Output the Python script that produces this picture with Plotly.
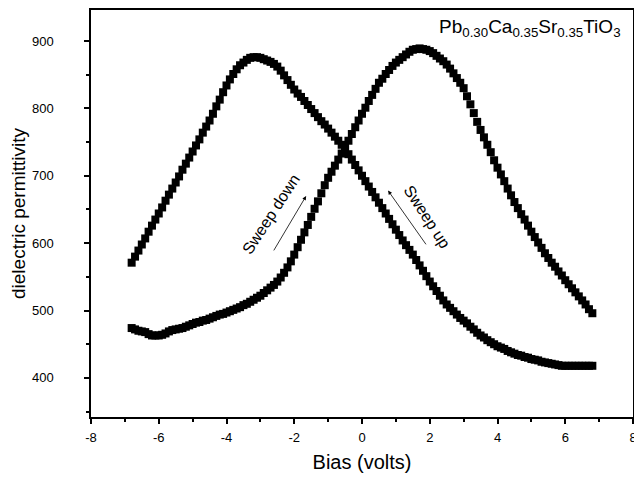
import plotly.graph_objects as go

# bias values (V), common to both sweeps
bias = [
    -6.8, -6.7, -6.6, -6.5, -6.4, -6.3, -6.2, -6.1, -6.0, -5.9,
    -5.8, -5.7, -5.6, -5.5, -5.4, -5.3, -5.2, -5.1, -5.0, -4.9,
    -4.8, -4.7, -4.6, -4.5, -4.4, -4.3, -4.2, -4.1, -4.0, -3.9,
    -3.8, -3.7, -3.6, -3.5, -3.4, -3.3, -3.2, -3.1, -3.0, -2.9,
    -2.8, -2.7, -2.6, -2.5, -2.4, -2.3, -2.2, -2.1, -2.0, -1.9,
    -1.8, -1.7, -1.6, -1.5, -1.4, -1.3, -1.2, -1.1, -1.0, -0.9,
    -0.8, -0.7, -0.6, -0.5, -0.4, -0.3, -0.2, -0.1, 0.0, 0.1,
    0.2, 0.3, 0.4, 0.5, 0.6, 0.7, 0.8, 0.9, 1.0, 1.1,
    1.2, 1.3, 1.4, 1.5, 1.6, 1.7, 1.8, 1.9, 2.0, 2.1,
    2.2, 2.3, 2.4, 2.5, 2.6, 2.7, 2.8, 2.9, 3.0, 3.1,
    3.2, 3.3, 3.4, 3.5, 3.6, 3.7, 3.8, 3.9, 4.0, 4.1,
    4.2, 4.3, 4.4, 4.5, 4.6, 4.7, 4.8, 4.9, 5.0, 5.1,
    5.2, 5.3, 5.4, 5.5, 5.6, 5.7, 5.8, 5.9, 6.0, 6.1,
    6.2, 6.3, 6.4, 6.5, 6.6, 6.7, 6.8,
]

# curve peaking at negative bias
eps_left = [
    571, 580, 589, 598, 607, 617, 626, 635, 644, 653,
    663, 672, 681, 690, 699, 709, 718, 727, 736, 745,
    754, 764, 773, 782, 792, 803, 813, 824, 834, 843,
    851, 858, 864, 868, 872, 875, 876, 876, 875, 873,
    871, 869, 866, 862, 856, 849, 842, 835, 828, 822,
    817, 811, 805, 799, 793, 787, 781, 776, 770, 764,
    758, 752, 746, 740, 732, 724, 716, 708, 700, 692,
    684, 676, 668, 660, 652, 644, 636, 628, 620, 612,
    604, 597, 590, 583, 575, 567, 559, 551, 543, 536,
    529, 522, 515, 509, 504, 499, 494, 489, 485, 481,
    476, 472, 467, 463, 460, 456, 453, 450, 447, 445,
    443, 440, 438, 436, 434, 433, 431, 430, 428, 427,
    426, 424, 423, 422, 421, 420, 419, 418, 418, 418,
    418, 418, 418, 418, 418, 418, 418,
]

# curve peaking at positive bias
eps_right = [
    474, 472, 470, 469, 468, 465, 463, 463, 463, 464,
    466, 469, 471, 472, 473, 474, 476, 478, 480, 482,
    483, 485, 486, 488, 490, 492, 494, 495, 497, 499,
    501, 503, 505, 508, 510, 513, 516, 519, 522, 526,
    530, 534, 538, 543, 549, 556, 564, 573, 583, 594,
    605, 616, 627, 639, 651, 662, 674, 686, 697, 706,
    715, 724, 733, 742, 752, 762, 772, 782, 792, 801,
    811, 820, 829, 838, 844, 851, 857, 863, 868, 872,
    876, 880, 884, 887, 888, 889, 888, 887, 885, 882,
    878, 874, 870, 865, 859, 852, 845, 838, 830, 818,
    806, 793, 780, 768, 757, 746, 735, 723, 712, 702,
    692, 681, 671, 661, 652, 643, 635, 626, 617, 609,
    601, 593, 585, 578, 571, 565, 558, 552, 545, 539,
    533, 527, 521, 515, 509, 502, 496,
]

x_ticks = [-8, -6, -4, -2, 0, 2, 4, 6, 8]
x_labels = ["-8", "-6", "-4", "-2", "0", "2", "4", "6", "8"]
y_ticks = [400, 500, 600, 700, 800, 900]

FONT = "Arial, Liberation Sans, sans-serif"

fig = go.Figure()
for y in (eps_left, eps_right):
    fig.add_trace(go.Scatter(
        x=bias, y=y, mode="markers",
        marker=dict(symbol="square", size=8, color="black", line=dict(width=0)),
        showlegend=False, cliponaxis=False,
    ))

axis_common = dict(
    showline=True, linecolor="black", linewidth=1.5, mirror=True,
    ticks="outside", ticklen=5, tickwidth=1.5, tickcolor="black",
    showgrid=False, zeroline=False, automargin=False,
    tickfont=dict(family=FONT, size=13, color="black"),
)

fig.update_xaxes(
    range=[-8, 8], tickmode="array", tickvals=x_ticks, ticktext=x_labels,
    ticklabelstandoff=3,
    minor=dict(dtick=1, ticks="outside", ticklen=3, tickcolor="black", tickwidth=1.5),
    title=dict(text="Bias (volts)", font=dict(family=FONT, size=20, color="black"), standoff=11),
    **axis_common,
)
fig.update_yaxes(
    range=[342, 946], tickmode="array", tickvals=y_ticks,
    ticklabelstandoff=28,
    minor=dict(dtick=50, ticks="outside", ticklen=3, tickcolor="black", tickwidth=1.5),
    title=dict(text="dielectric permittivity", font=dict(family=FONT, size=19, color="black"), standoff=6),
    **axis_common,
)

fig.add_annotation(
    x=-1.65, y=670, ax=-2.63, ay=587, xref="x", yref="y", axref="x", ayref="y",
    text="", showarrow=True, arrowhead=2, arrowsize=1, arrowwidth=0.8, arrowcolor="black",
)
fig.add_annotation(
    x=-2.7, y=643, text="Sweep down", showarrow=False, textangle=-57,
    font=dict(family=FONT, size=16, color="black"),
)
fig.add_annotation(
    x=0.77, y=678, ax=1.92, ay=596, xref="x", yref="y", axref="x", ayref="y",
    text="", showarrow=True, arrowhead=2, arrowsize=1, arrowwidth=0.8, arrowcolor="black",
)
fig.add_annotation(
    x=1.92, y=640, text="Sweep up", showarrow=False, textangle=57,
    font=dict(family=FONT, size=16, color="black"),
)
fig.add_annotation(
    x=0.982, y=0.955, xref="paper", yref="paper", xanchor="right", yanchor="middle",
    text="Pb<sub>0.30</sub>Ca<sub>0.35</sub>Sr<sub>0.35</sub>TiO<sub>3</sub>",
    showarrow=False, font=dict(family=FONT, size=19, color="black"),
)

# the page body adds an 8 px offset, so the margins are trimmed to match
fig.update_layout(
    width=642, height=477,
    margin=dict(l=83, r=17, t=2, b=68),
    paper_bgcolor="white", plot_bgcolor="white",
    font=dict(family=FONT, color="black"),
)

fig.write_html("out.html")
